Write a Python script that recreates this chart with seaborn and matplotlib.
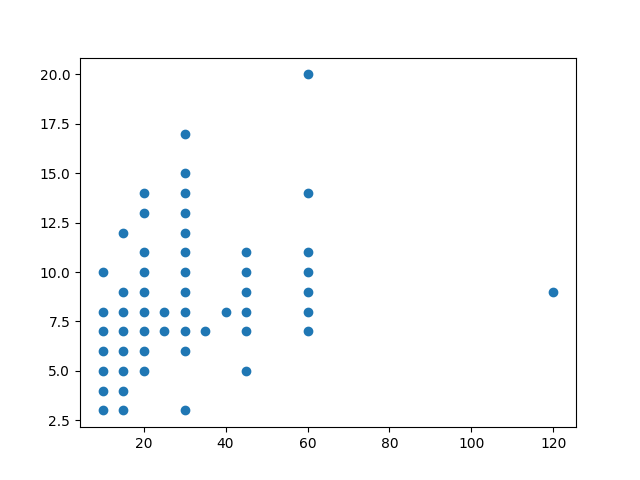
import matplotlib
matplotlib.use("Agg")
import matplotlib.pyplot as plt
import seaborn as sns
import pandas as pd

x10 = [10, 10, 10, 10, 10, 10, 10]
y10 = [10, 8, 7, 6, 5, 4, 3]
x15 = [15] * 8
y15 = [12, 9, 8, 7, 6, 5, 4, 3]
x20 = [20] * 9
y20 = [14, 13, 11, 10, 9, 8, 7, 6, 5]
x25 = [25, 25]
y25 = [8, 7]
x30 = [30] * 12
y30 = [17, 15, 14, 13, 12, 11, 10, 9, 8, 7, 6, 3]
x35 = [35]
y35 = [7]
x40 = [40]
y40 = [8]
x45 = [45] * 6
y45 = [11, 10, 9, 8, 7, 5]
x60 = [60] * 7
y60 = [20, 14, 11, 10, 9, 8, 7]
x120 = [120]
y120 = [9]

xs = x10 + x15 + x20 + x25 + x30 + x35 + x40 + x45 + x60 + x120
ys = y10 + y15 + y20 + y25 + y30 + y35 + y40 + y45 + y60 + y120
df = pd.DataFrame({"x": xs, "y": ys})

fig, ax = plt.subplots(figsize=(6.4, 4.8), dpi=100)
sns.scatterplot(data=df, x="x", y="y", ax=ax, color="#1f77b4", s=36,
                edgecolor="#1f77b4", linewidth=1.0)
ax.set_xlabel("")
ax.set_ylabel("")
fig.savefig("out.png")
